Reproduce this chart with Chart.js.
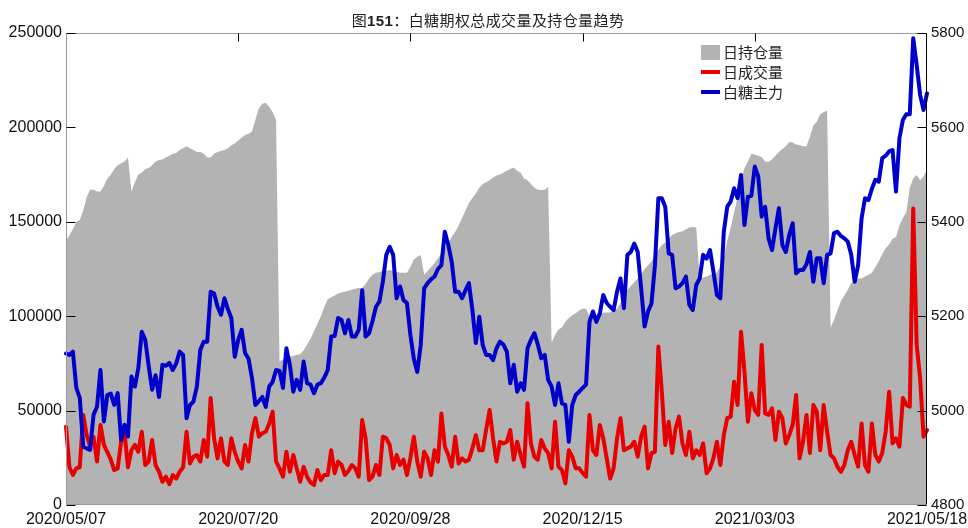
<!DOCTYPE html>
<html>
<head>
<meta charset="utf-8">
<script src="https://cdn.jsdelivr.net/npm/chart.js@4.4.1/dist/chart.umd.min.js"></script>
<style>
  body { margin: 0; background: #fff; }
  #wrap { position: relative; width: 968px; height: 528px; }
  #title {
    position: absolute; left: 4px; top: 11px; width: 968px;
    text-align: center; color: #222; letter-spacing: 0.4px;
    font: 15px/18px "Noto Sans CJK SC", sans-serif;
  }
  #title b { font-family: "Liberation Sans", Arial, sans-serif; }
  #legend {
    position: absolute; left: 701px; top: 42px; color: #222;
    font: 15px/20px "Noto Sans CJK SC", sans-serif;
  }
  .row { display: flex; align-items: center; height: 20px; }
  .sym { width: 19px; margin-right: 3px; }
</style>
</head>
<body>
<div id="wrap">
  <canvas id="chart1" width="968" height="528"></canvas>
  <div id="title">图<b>151</b>：白糖期权总成交量及持仓量趋势</div>
  <div id="legend"></div>
</div>
<script>
// 横轴刻度标签（每50个交易日一个）
const xTickLabels = ['2020/05/07', '2020/07/20', '2020/09/28', '2020/12/15', '2021/03/03', '2021/05/18'];
const tickEvery = 50;

// 日持仓量（手）
const openInterest = [
  140000,143000,146000,150000,151000,156000,163000,167000,167000,166000,
  166000,169000,173000,175000,178000,180000,181000,182000,184000,166000,
  171000,175000,176000,178000,178500,180000,182000,182700,183000,184000,
  185000,186000,186500,188000,189000,190000,189000,188000,187000,187000,
  186000,184000,184000,186000,187000,187500,188000,189000,190500,191500,
  193000,194500,196000,196500,198000,204000,210000,212500,213000,211000,
  208000,204000,76000,77000,78000,78500,79000,79500,80000,82000,
  85000,88000,92000,96000,100000,105000,109000,110000,111000,112000,
  112500,113000,113500,114000,114500,115000,115000,117000,120000,122000,
  123000,123400,124000,124000,124500,124000,123500,123000,123000,123000,
  126000,130000,131500,132400,122000,124000,126000,128000,130800,133000,
  136000,139000,142000,144600,148000,152000,156000,160000,162600,165000,
  168000,170000,171000,172000,173500,174500,175000,176000,177000,178000,
  178700,177000,176000,173000,172000,170000,168000,167000,166800,167000,
  168500,86000,90000,93000,94000,97000,99000,100500,101500,103000,
  104000,104000,100000,99600,100000,101000,102000,102000,102000,103000,
  104000,107000,110000,114000,116000,118000,120000,122000,125000,127000,
  129000,132000,135000,137700,139000,141000,143000,144000,144600,145000,
  146000,147000,147200,147000,120000,120500,121000,122000,122500,123000,
  127000,131000,140000,147000,155000,163000,172000,178500,182000,186000,
  185500,185000,184300,182000,181700,183000,185000,187000,188500,190000,
  192300,192000,191000,190700,190000,190000,195000,201000,203000,207000,
  208000,209000,94000,98000,103000,108000,111000,114000,117500,119000,
  120000,120000,121000,122000,123000,126000,129000,133000,136000,138000,
  141000,142000,148000,152000,155000,168000,173000,174800,172000,174000,
  177500
];

// 日成交量（手）
const volume = [
  41500,20000,15900,19400,20000,47700,37000,31000,36000,23000,
  42400,31800,28000,24000,18500,19400,33500,38000,20000,29000,
  31800,28200,38800,21200,23000,34400,21200,17600,12300,15000,
  11000,15900,14000,17600,20000,38800,22000,25600,26500,23000,
  34400,25600,56700,35300,24700,35300,23000,21200,35300,28000,
  23000,19400,31800,23000,38000,46000,36200,38000,38800,43000,
  49400,23000,19400,15000,28200,17600,26500,19400,12300,20300,
  15000,12000,10600,18500,13200,15900,15900,29000,16800,23000,
  21200,15900,18000,21200,19400,15000,45000,35300,13200,15000,
  21200,15900,36200,35300,31800,19400,26500,21200,24000,15900,
  25000,36200,23000,15000,28200,24700,15900,29000,23000,48500,
  31000,26500,20300,36200,22000,24700,23000,24000,30000,37000,
  29000,29000,40000,50300,35300,23000,33500,32600,33500,39700,
  24000,33500,26500,20300,53900,32600,25600,24000,34400,30000,
  27500,19400,44100,20300,18500,11500,29000,25600,19400,19400,
  17000,15000,47700,29000,26500,42400,35300,24700,14000,19400,
  35300,46000,29000,30000,30900,33500,25600,36200,41500,19400,
  27500,28200,83900,60000,31800,44100,27500,40600,46800,32600,
  26500,38800,24700,29000,26500,32600,16800,19400,25000,33500,
  21200,37000,46000,46800,65300,53000,91800,70600,44100,59200,
  50300,47700,84800,48500,47700,51200,34400,49400,46000,32600,
  37000,42400,58300,24700,33500,47700,27500,53000,49400,29000,
  53000,38800,26500,24700,20300,17600,21200,29000,33500,26500,
  20300,43200,21200,17600,43200,26500,23000,27500,38800,60000,
  32600,35300,30900,56700,53000,52100,157100,84800,67100,36200,
  39700
];

// 白糖主力合约收盘价（元/吨，右轴）
const sugarMain = [
  5121,5118,5125,5048,5027,4924,4920,4917,4991,5008,
  5086,4977,5033,5036,5012,5037,4938,4970,4945,5072,
  5051,5090,5167,5150,5095,5044,5075,5029,5097,5095,
  5101,5086,5100,5125,5118,4984,5012,5019,5051,5129,
  5146,5146,5252,5248,5220,5203,5238,5215,5196,5114,
  5150,5171,5122,5110,5069,5012,5020,5029,5008,5051,
  5061,5086,5084,5048,5132,5097,5040,5065,5044,5104,
  5058,5055,5037,5055,5058,5070,5086,5157,5158,5196,
  5192,5164,5192,5157,5157,5171,5255,5157,5164,5190,
  5220,5231,5273,5330,5347,5330,5238,5263,5234,5228,
  5160,5110,5082,5139,5259,5270,5278,5284,5300,5308,
  5379,5351,5315,5252,5252,5238,5255,5270,5213,5143,
  5199,5139,5118,5118,5107,5132,5146,5140,5125,5058,
  5097,5040,5058,5044,5132,5150,5164,5140,5111,5118,
  5065,5051,5012,5058,5015,5012,4934,5012,5033,5040,
  5048,5055,5188,5210,5188,5206,5245,5228,5220,5213,
  5252,5280,5217,5330,5336,5354,5336,5259,5178,5210,
  5227,5308,5450,5450,5432,5333,5330,5259,5263,5270,
  5284,5224,5213,5266,5280,5330,5322,5340,5294,5245,
  5238,5379,5432,5443,5471,5450,5499,5393,5453,5455,
  5517,5496,5411,5432,5365,5340,5386,5429,5351,5336,
  5372,5397,5291,5298,5298,5310,5336,5273,5323,5323,
  5270,5330,5333,5376,5379,5370,5365,5358,5330,5273,
  5308,5407,5450,5446,5470,5489,5485,5535,5540,5549,
  5552,5464,5577,5616,5628,5628,5789,5732,5669,5637,
  5672
];

const seriesNames = ['日持仓量', '日成交量', '白糖主力'];
const seriesColors = ['#b3b3b3', '#e80000', '#0000cc'];

const days = openInterest.map((_, i) => i);

Chart.defaults.font.family = '"Liberation Sans", Arial, sans-serif';
Chart.defaults.font.size = 16;
Chart.defaults.color = '#111';

// 边框和朝内的刻度线
const frame = {
  id: 'frame',
  afterDraw(chart) {
    const { ctx, chartArea: a, scales } = chart;
    const L = Math.round(a.left) + 0.5, R = Math.round(a.right) - 0.5;
    const T = Math.round(a.top) + 0.5, B = Math.round(a.bottom) - 0.5;
    ctx.save();
    ctx.lineWidth = 1;
    ctx.strokeStyle = '#999';
    ctx.beginPath();
    ctx.moveTo(L, T); ctx.lineTo(R, T);
    ctx.moveTo(L, B); ctx.lineTo(R, B);
    ctx.moveTo(L, T); ctx.lineTo(L, B);
    ctx.stroke();

    ctx.strokeStyle = '#000';
    ctx.beginPath();
    ctx.moveTo(R, T); ctx.lineTo(R, B);
    scales.y.ticks.forEach(t => {
      const y = Math.round(scales.y.getPixelForValue(t.value)) + 0.5;
      ctx.moveTo(L, y); ctx.lineTo(L + 9, y);
    });
    scales.y1.ticks.forEach(t => {
      const y = Math.round(scales.y1.getPixelForValue(t.value)) + 0.5;
      ctx.moveTo(R - 9, y); ctx.lineTo(R, y);
    });
    for (let i = tickEvery; i < days.length - 1; i += tickEvery) {
      const x = Math.round(scales.x.getPixelForValue(i)) + 0.5;
      ctx.moveTo(x, T); ctx.lineTo(x, T + 8);
    }
    ctx.stroke();
    ctx.restore();
  }
};

const noGrid = { display: false, drawTicks: false };

new Chart(document.getElementById('chart1'), {
  type: 'line',
  data: {
    labels: days,
    datasets: [
      {
        label: seriesNames[0],
        data: openInterest,
        yAxisID: 'y',
        fill: 'origin',
        backgroundColor: seriesColors[0],
        borderColor: 'rgba(0,0,0,0)',
        borderWidth: 0,
        pointRadius: 0,
        order: 2
      },
      {
        label: seriesNames[1],
        data: volume,
        yAxisID: 'y',
        borderColor: seriesColors[1],
        borderWidth: 4,
        borderJoinStyle: 'round',
        borderCapStyle: 'round',
        pointRadius: 0,
        fill: false,
        order: 1
      },
      {
        label: seriesNames[2],
        data: sugarMain,
        yAxisID: 'y1',
        borderColor: seriesColors[2],
        borderWidth: 4,
        borderJoinStyle: 'round',
        borderCapStyle: 'round',
        pointRadius: 0,
        fill: false,
        order: 0
      }
    ]
  },
  options: {
    responsive: false,
    animation: false,
    layout: { padding: { top: 33 } },
    plugins: {
      legend: { display: false },
      title: { display: false },
      tooltip: { enabled: false }
    },
    scales: {
      x: {
        grid: noGrid,
        border: { display: false },
        ticks: {
          autoSkip: false, maxRotation: 0, minRotation: 0, padding: 5,
          callback: (v, i) => (i % tickEvery === 0 ? xTickLabels[i / tickEvery] : '')
        },
        afterFit: s => { s.height = 23; s.paddingLeft = 0; s.paddingRight = 0; }
      },
      y: {
        position: 'left',
        min: 0, max: 250000,
        grid: noGrid,
        border: { display: false },
        ticks: { stepSize: 50000, padding: 4, callback: v => String(v) },
        afterFit: s => { s.width = 66; }
      },
      y1: {
        position: 'right',
        min: 4800, max: 5800,
        grid: noGrid,
        border: { display: false },
        ticks: { stepSize: 200, padding: 4, font: { size: 15 }, callback: v => String(v) },
        afterFit: s => { s.width = 41; }
      }
    }
  },
  plugins: [frame]
});

// 图例
const legend = document.getElementById('legend');
seriesNames.forEach((name, i) => {
  const row = document.createElement('div');
  row.className = 'row';
  const sym = document.createElement('div');
  sym.className = 'sym';
  sym.style.height = i === 0 ? '15px' : '4px';
  sym.style.background = seriesColors[i];
  row.appendChild(sym);
  row.appendChild(document.createTextNode(name));
  legend.appendChild(row);
});
</script>
</body>
</html>
